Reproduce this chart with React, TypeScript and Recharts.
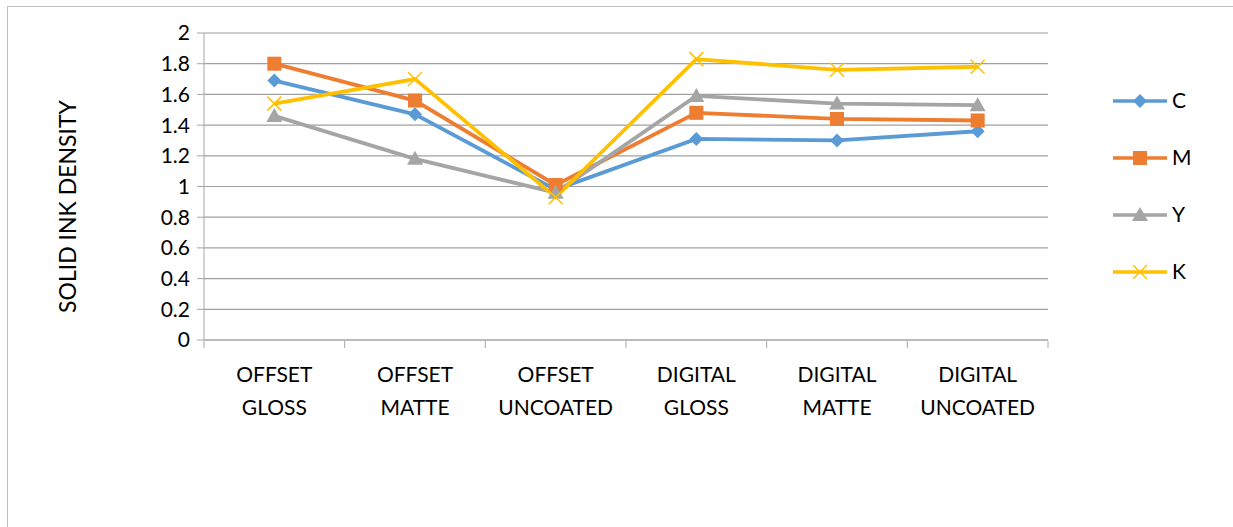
import React from 'react';
import { LineChart, Line, XAxis, YAxis, CartesianGrid } from 'recharts';

const categories = [
  'OFFSET GLOSS',
  'OFFSET MATTE',
  'OFFSET UNCOATED',
  'DIGITAL GLOSS',
  'DIGITAL MATTE',
  'DIGITAL UNCOATED',
];

const cValues = [1.69, 1.47, 0.98, 1.31, 1.3, 1.36];
const mValues = [1.8, 1.56, 1.01, 1.48, 1.44, 1.43];
const yValues = [1.46, 1.18, 0.96, 1.59, 1.54, 1.53];
const kValues = [1.54, 1.7, 0.93, 1.83, 1.76, 1.78];

const yTicks = [0, 0.2, 0.4, 0.6, 0.8, 1, 1.2, 1.4, 1.6, 1.8, 2];

const data = categories.map((name, i) => ({
  name,
  C: cValues[i],
  M: mValues[i],
  Y: yValues[i],
  K: kValues[i],
}));

const FONT = 'Lato, "Open Sans", sans-serif';
const FS = 21;
const AXIS = '#a6a6a6';
const GRID = '#a0a0a0';

const W = 1233;
const H = 527;
const MARGIN = { top: 33, right: 185, bottom: 127, left: 144 };
const PLOT_W = W - MARGIN.left - 60 - MARGIN.right;
const BAND = PLOT_W / categories.length;

const series = [
  { key: 'C', color: '#5b9bd5', shape: 'diamond' },
  { key: 'M', color: '#ed7d31', shape: 'square' },
  { key: 'Y', color: '#a5a5a5', shape: 'triangle' },
  { key: 'K', color: '#ffc000', shape: 'cross' },
];

function Marker({ cx, cy, shape, color }: any) {
  if (cx == null || cy == null) return null;
  if (shape === 'diamond') {
    const r = 7;
    return <polygon points={`${cx},${cy - r} ${cx + r},${cy} ${cx},${cy + r} ${cx - r},${cy}`} fill={color} />;
  }
  if (shape === 'square') {
    const r = 7;
    return <rect x={cx - r} y={cy - r} width={r * 2} height={r * 2} fill={color} />;
  }
  if (shape === 'triangle') {
    const r = 8;
    return <polygon points={`${cx},${cy - r} ${cx + r},${cy + r * 0.75} ${cx - r},${cy + r * 0.75}`} fill={color} />;
  }
  const r = 7;
  return (
    <g stroke={color} strokeWidth={1.5}>
      <line x1={cx - r} y1={cy - r} x2={cx + r} y2={cy + r} />
      <line x1={cx - r} y1={cy + r} x2={cx + r} y2={cy - r} />
    </g>
  );
}

function CategoryTick({ x, y, payload, index }: any) {
  const words = String(payload.value).split(' ');
  const left = x - BAND / 2;
  return (
    <g>
      <line x1={left} y1={y - 7} x2={left} y2={y} stroke={AXIS} />
      {index === categories.length - 1 && (
        <line x1={x + BAND / 2} y1={y - 7} x2={x + BAND / 2} y2={y} stroke={AXIS} />
      )}
      <text textAnchor="middle" fontFamily={FONT} fontSize={FS} fill="#000">
        {words.map((w, i) => (
          <tspan key={i} x={x} y={y + 34 + i * 33}>
            {w}
          </tspan>
        ))}
      </text>
    </g>
  );
}

function LegendBox() {
  return (
    <svg width={110} height={220} style={{ position: 'absolute', left: 1113, top: 80 }}>
      {series.map((s, i) => {
        const cy = 21 + i * 57;
        return (
          <g key={s.key}>
            <line x1={0} y1={cy} x2={54} y2={cy} stroke={s.color} strokeWidth={3.5} />
            <Marker cx={27} cy={cy} shape={s.shape} color={s.color} />
            <text x={59} y={cy + 7} fontFamily={FONT} fontSize={FS} fill="#000">
              {s.key}
            </text>
          </g>
        );
      })}
    </svg>
  );
}

export default function App() {
  return (
    <div style={{ position: 'absolute', left: 0, top: 0, width: W, height: H, background: '#fff', overflow: 'hidden' }}>
      <div
        style={{
          position: 'absolute',
          left: 7,
          top: 6,
          width: W,
          height: H,
          borderTop: '1.5px solid #bfbfbf',
          borderLeft: '1.5px solid #bfbfbf',
        }}
      />
      <div style={{ position: 'absolute', left: 0, top: 0 }}>
        <LineChart width={W} height={H} data={data} margin={MARGIN}>
          <CartesianGrid vertical={false} stroke={GRID} strokeWidth={1.2} />
          <XAxis
            dataKey="name"
            scale="band"
            interval={0}
            height={60}
            axisLine={{ stroke: AXIS }}
            tickLine={false}
            tick={<CategoryTick />}
          />
          <YAxis
            domain={[0, 2]}
            ticks={yTicks}
            width={60}
            interval={0}
            tickSize={7}
            tickMargin={7}
            axisLine={{ stroke: AXIS }}
            tickLine={{ stroke: AXIS }}
            tickFormatter={(v: number) => String(Number(v.toFixed(1)))}
            tick={{ fontFamily: FONT, fontSize: FS, fill: '#000' }}
            label={{
              value: 'SOLID INK DENSITY',
              angle: -90,
              position: 'left',
              offset: 76,
              dy: 20,
              style: { fontFamily: FONT, fontSize: 23, fill: '#000', textAnchor: 'middle' },
            }}
          />
          {series.map((s) => (
            <Line
              key={s.key}
              type="linear"
              dataKey={s.key}
              stroke={s.color}
              strokeWidth={3.8}
              isAnimationActive={false}
              dot={(p: any) => <Marker key={`${s.key}-${p.index}`} cx={p.cx} cy={p.cy} shape={s.shape} color={s.color} />}
              activeDot={false}
            />
          ))}
        </LineChart>
      </div>
      <LegendBox />
    </div>
  );
}
